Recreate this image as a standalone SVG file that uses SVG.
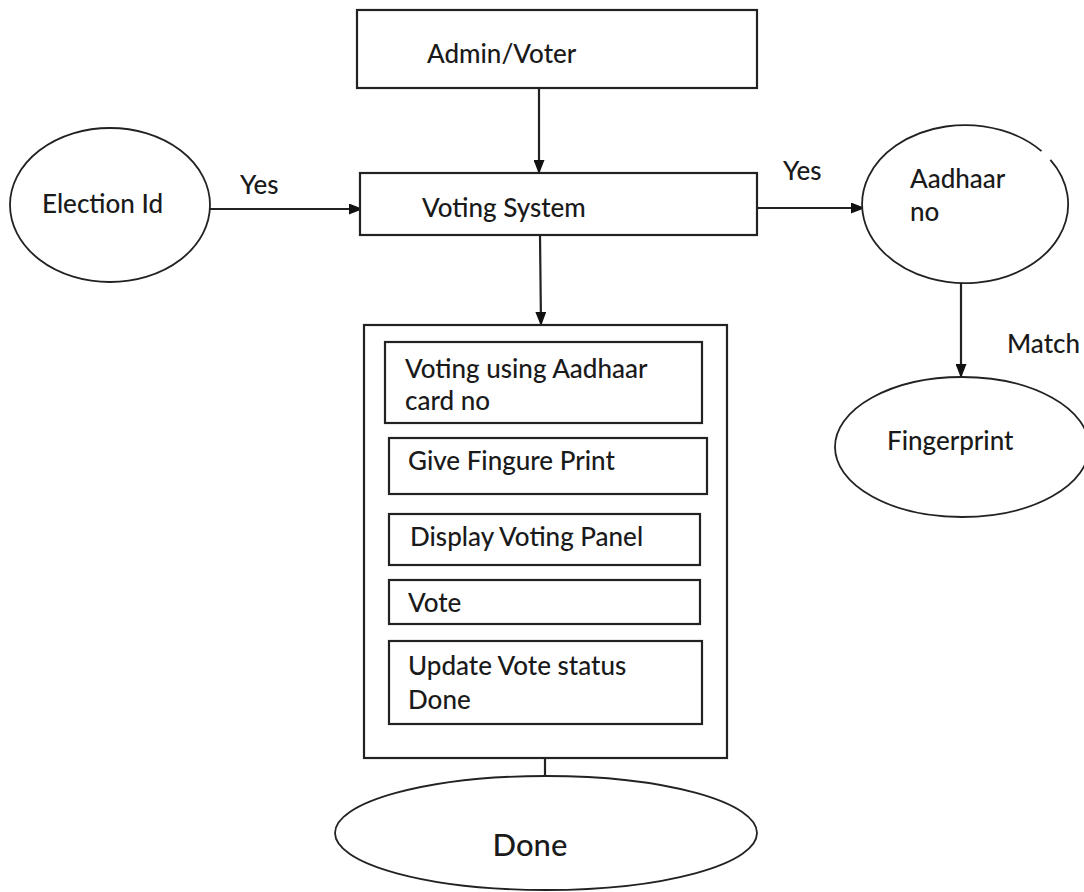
<svg xmlns="http://www.w3.org/2000/svg" width="1084" height="892" viewBox="0 0 1084 892">
<defs>
<marker id="ah" viewBox="0 0 14 11" refX="13" refY="5.5" markerWidth="14" markerHeight="11" markerUnits="userSpaceOnUse" orient="auto">
<path d="M0,0 L14,5.5 L0,11 z" fill="#111"/>
</marker>
<style>
.box{fill:#fff;stroke:#222;stroke-width:2.2}
.ell{fill:#fff;stroke:#222;stroke-width:1.8}
.ln{fill:none;stroke:#222;stroke-width:2.2}
.t{font-family:Lato,"Open Sans","Liberation Sans",sans-serif;font-size:26px;font-weight:500;fill:#1a1a1a}
</style>
</defs>
<rect width="1084" height="892" fill="#fff"/>
<g id="connectors">
<line class="ln" x1="539" y1="88" x2="539" y2="173" marker-end="url(#ah)"/>
<line class="ln" x1="209" y1="209" x2="362" y2="209" marker-end="url(#ah)"/>
<line class="ln" x1="757" y1="208" x2="864" y2="208" marker-end="url(#ah)"/>
<line class="ln" x1="961" y1="283" x2="961" y2="377" marker-end="url(#ah)"/>
<line class="ln" x1="540" y1="235" x2="541" y2="325" marker-end="url(#ah)"/>
<line class="ln" x1="545" y1="758" x2="545" y2="775"/>
<text class="t" x="240" y="194">Yes</text>
<text class="t" x="783" y="180">Yes</text>
<text class="t" x="1007" y="353">Match</text>
</g>
<g id="admin">
<rect class="box" x="357" y="10" width="400" height="78"/>
<text class="t" x="427" y="63">Admin/Voter</text>
</g>
<g id="voting-system">
<rect class="box" x="360" y="173" width="397" height="62"/>
<text class="t" x="422" y="217">Voting System</text>
</g>
<g id="election-id">
<ellipse class="ell" cx="110" cy="205" rx="100" ry="77"/>
<text class="t" x="42" y="213">Election Id</text>
</g>
<g id="aadhaar">
<ellipse cx="965" cy="204" rx="103" ry="79" fill="#fff"/>
<path class="ell" d="M1050.4,159.8 A103,79 0 1 1 1041.5,151.1"/>
<text class="t" x="910" y="188">Aadhaar</text>
<text class="t" x="910" y="221">no</text>
</g>
<g id="fingerprint">
<ellipse class="ell" cx="962" cy="447" rx="127" ry="70"/>
<text class="t" x="887" y="450">Fingerprint</text>
</g>
<g id="steps">
<rect class="box" x="364" y="325" width="363" height="433"/>
<rect class="box" x="385" y="342" width="317" height="81"/>
<text class="t" x="405" y="378">Voting using Aadhaar</text>
<text class="t" x="405" y="410">card no</text>
<rect class="box" x="389" y="438" width="318" height="56"/>
<text class="t" x="408" y="470">Give Fingure Print</text>
<rect class="box" x="389" y="514" width="311" height="51"/>
<text class="t" x="410" y="546">Display Voting Panel</text>
<rect class="box" x="389" y="580" width="311" height="44"/>
<text class="t" x="408" y="612">Vote</text>
<rect class="box" x="389" y="641" width="313" height="83"/>
<text class="t" x="408" y="675">Update Vote status</text>
<text class="t" x="408" y="709">Done</text>
</g>
<g id="done">
<ellipse class="ell" cx="546" cy="833" rx="211" ry="57"/>
<text class="t" x="530" y="856" text-anchor="middle" style="font-size:31px">Done</text>
</g>
</svg>
